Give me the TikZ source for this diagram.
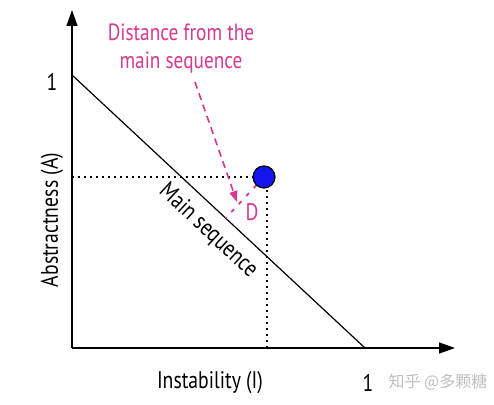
\documentclass[tikz,border=0pt]{standalone}
\usepackage{fontspec}
\setmainfont{PT Sans}[FakeStretch=0.82]
\newfontfamily\cjk{Noto Sans CJK SC}
\usetikzlibrary{arrows.meta}
\definecolor{mag}{HTML}{D63A8C}
\definecolor{dotblue}{HTML}{1414EE}
\tikzset{
  axisline/.style={line width=1.6pt, -{Triangle[length=16pt,width=11pt]}},
  seqline/.style={line width=1.2pt},
  guide/.style={line width=1.6pt, dash pattern=on 1.6pt off 4.4pt},
  lbl/.style={inner sep=0pt, font=\fontsize{24}{26}\selectfont},
  maglbl/.style={inner sep=0pt, text=mag, align=center, font=\fontsize{23.5}{28}\selectfont},
  magarrow/.style={mag, line width=1.6pt, dash pattern=on 7pt off 5pt, -{Triangle[length=11pt,width=8pt]}},
  magdist/.style={mag, line width=1.8pt, dash pattern=on 4pt off 7pt},
  pointdot/.style={circle, fill=dotblue, draw=black, line width=1.2pt, minimum size=22pt, inner sep=0pt}
}
\begin{document}
\begin{tikzpicture}[x=1pt,y=-1pt]
\useasboundingbox (0,0) rectangle (494,404);
\fill[white] (0,0) rectangle (494,404);
\coordinate (O) at (72,348);
\coordinate (ytip) at (72,10);
\coordinate (xtip) at (455,348);
\coordinate (A1) at (72,75);
\coordinate (X1) at (365,348);
\coordinate (P) at (264,177);
\coordinate (Ay) at (72,177);
\coordinate (Pv) at (267,190);
\coordinate (Px) at (267,348);
\coordinate (F) at (225.6,218.2);
\coordinate (arrS) at (195,82);
\coordinate (arrE) at (237,202);
% guides
\draw[guide] (Ay) -- (P);
\draw[guide] (Pv) -- (Px);
% main sequence
\draw[seqline] (A1) -- (X1);
% axes
\draw[axisline] (O) -- (ytip);
\draw[axisline] (O) -- (xtip);
% distance
\draw[magdist] (P) -- (F);
\draw[magarrow] (arrS) -- (arrE);
\node[pointdot] (dot) at (P) {};
% labels
\node[lbl] (ytick) at (52,82) {1};
\node[lbl] (xtick) at (368,383) {1};
\node[lbl] (xlabel) at (210,383) {Instability (I)};
\node[lbl, rotate=90] (ylabel) at (52,220) {Abstractness (A)};
\node[lbl, rotate=-43] (seqlabel) at (208,231) {Main sequence};
\node[maglbl] (distlabel) at (181,49) {Distance from the\\main sequence};
\node[lbl, text=mag] (dlabel) at (252,212) {D};
\node[inner sep=0pt, text=black!25, font=\cjk\fontsize{16}{16}\selectfont] (wm) at (438,382) {知乎 @多颗糖};
\end{tikzpicture}
\end{document}
